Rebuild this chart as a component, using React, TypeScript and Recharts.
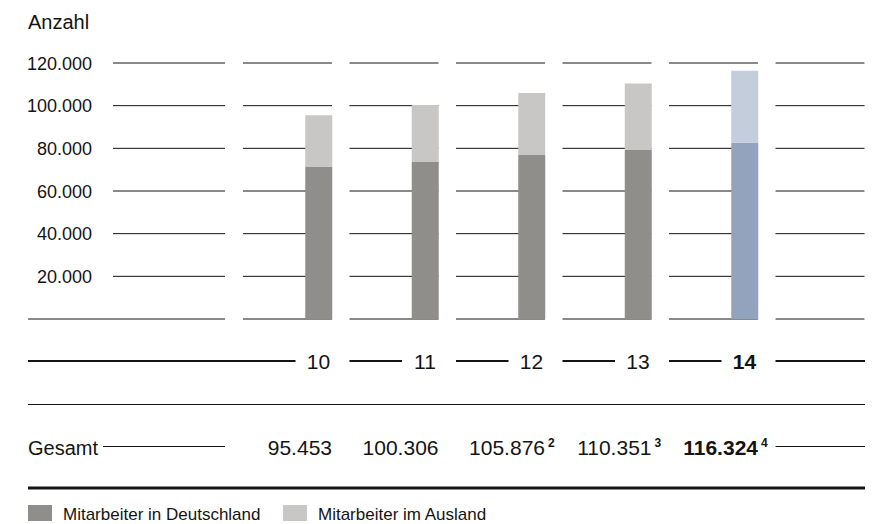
import React from "react";
import { Bar, BarChart, CartesianGrid, Cell, XAxis, YAxis } from "recharts";

const YEARS = ["10", "11", "12", "13", "14"];
const DEUTSCHLAND = [71300, 73600, 76900, 79200, 82600];
const AUSLAND = [24150, 26700, 28980, 31150, 33720];
const GESAMT = [95453, 100306, 105876, 110351, 116324];
const FOOTNOTES = ["", "", "2", "3", "4"];
const Y_TICKS = [0, 20000, 40000, 60000, 80000, 100000, 120000];
const HIGHLIGHT_YEAR = "14";

const data = YEARS.map((year, i) => ({
  year,
  deutschland: DEUTSCHLAND[i],
  ausland: AUSLAND[i],
  gesamt: GESAMT[i],
  note: FOOTNOTES[i],
}));

const INK = "#141414";
const DE_COLOR = "#8f8e8a";
const AUS_COLOR = "#c8c7c5";
const DE_HL = "#94a3bd";
const AUS_HL = "#c3cddb";

const W = 876;
const H = 524;
const LEFT = 28;
const RIGHT = 865;
const BAR = 27;
const PLOT_BOTTOM = 319;

const fmt = (n: number) => String(n).replace(/\B(?=(\d{3})+(?!\d))/g, ".");

// one grid row = label column segment + one short segment per column (plus an empty trailing column)
const renderGridRow = (props: any) => {
  const { x1, x2, y1, index } = props;
  const bw = (x2 - x1) / YEARS.length;
  const isBase = Math.abs(y1 - PLOT_BOTTOM) < 1;
  const segs: number[][] = [[isBase ? LEFT : 113, 225]];
  for (let i = 0; i <= YEARS.length; i++) {
    const c = x1 + bw * (i + 0.5);
    segs.push([c - 75.5, c + BAR / 2]);
  }
  return (
    <g key={`row-${index}-${y1}`}>
      {segs.map(([a, b], k) => (
        <line key={k} x1={a} x2={b} y1={y1} y2={y1} stroke={INK} strokeWidth={1} />
      ))}
    </g>
  );
};

const YTick = (props: any) => {
  const { y, payload } = props;
  if (!payload || payload.value === 0) return null;
  return (
    <text x={92} y={y + 6.5} textAnchor="end" fontSize={18} fill={INK}>
      {fmt(payload.value)}
    </text>
  );
};

const XTick = (props: any) => {
  const { x, payload, index } = props;
  const row = data[index] || data.find((d) => d.year === payload.value);
  if (!row) return null;
  const bold = row.year === HIGHLIGHT_YEAR;
  const start = index === 0 ? LEFT : x - 75.5;
  const last = index === YEARS.length - 1;
  const bw = 106.5;
  return (
    <g>
      <line x1={start} x2={x - 23} y1={361} y2={361} stroke={INK} strokeWidth={2} />
      <text x={x} y={369} textAnchor="middle" fontSize={21} fontWeight={bold ? 700 : 400} fill={INK}>
        {row.year}
      </text>
      <text x={x + BAR / 2} y={455} textAnchor="end" fontSize={21} fontWeight={bold ? 700 : 400} fill={INK}>
        {fmt(row.gesamt)}
      </text>
      {row.note && (
        <text x={x + BAR / 2 + 3} y={447} fontSize={12} fontWeight={700} fill={INK}>
          {row.note}
        </text>
      )}
      {last && (
        <>
          <line x1={x + bw - 75.5} x2={RIGHT} y1={361} y2={361} stroke={INK} strokeWidth={2} />
          <line x1={x + bw - 75.5} x2={RIGHT} y1={446.5} y2={446.5} stroke={INK} strokeWidth={1} />
        </>
      )}
    </g>
  );
};

export default function App() {
  return (
    <div style={{ position: "absolute", left: 0, top: 0, width: W, height: H, fontFamily: '"Liberation Sans", Arial, sans-serif', background: "#fff" }}>
      <BarChart width={W} height={H} data={data} margin={{ top: 63, right: 78.25, bottom: 175, left: 0 }}>
        <CartesianGrid vertical={false} horizontal={renderGridRow} />
        <YAxis
          width={265.25}
          domain={[0, 120000]}
          ticks={Y_TICKS}
          axisLine={false}
          tickLine={false}
          tick={<YTick />}
        />
        <XAxis dataKey="year" height={30} axisLine={false} tickLine={false} tick={<XTick />} interval={0} />
        <Bar dataKey="deutschland" stackId="a" barSize={BAR} isAnimationActive={false}>
          {data.map((d) => (
            <Cell key={d.year} fill={d.year === HIGHLIGHT_YEAR ? DE_HL : DE_COLOR} />
          ))}
        </Bar>
        <Bar dataKey="ausland" stackId="a" barSize={BAR} isAnimationActive={false}>
          {data.map((d) => (
            <Cell key={d.year} fill={d.year === HIGHLIGHT_YEAR ? AUS_HL : AUS_COLOR} />
          ))}
        </Bar>
        <text x={LEFT} y={29} fontSize={20} fill={INK}>Anzahl</text>
        <line x1={LEFT} x2={RIGHT} y1={404.5} y2={404.5} stroke={INK} strokeWidth={1} />
        <text x={LEFT} y={455} fontSize={20} fill={INK}>Gesamt</text>
        <line x1={103} x2={225} y1={446.5} y2={446.5} stroke={INK} strokeWidth={1} />
        <line x1={LEFT} x2={RIGHT} y1={488} y2={488} stroke={INK} strokeWidth={3} />
        <rect x={LEFT} y={505} width={24} height={16} fill={DE_COLOR} />
        <text x={63} y={520} fontSize={17} fill={INK}>Mitarbeiter in Deutschland</text>
        <rect x={283} y={505} width={24} height={16} fill={AUS_COLOR} />
        <text x={318} y={520} fontSize={17} fill={INK}>Mitarbeiter im Ausland</text>
      </BarChart>
    </div>
  );
}
